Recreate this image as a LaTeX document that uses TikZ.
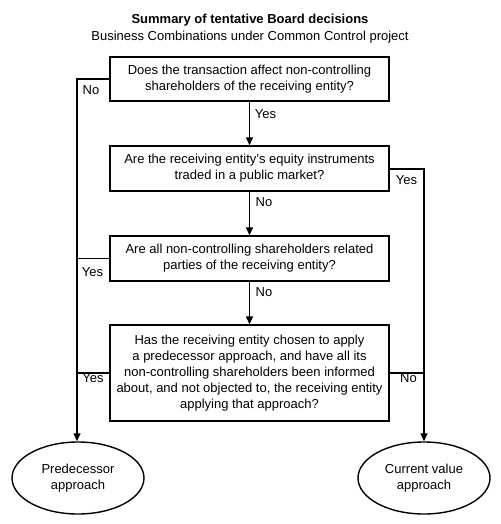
\documentclass[tikz,border=0pt]{standalone}
\usepackage{fontspec}
\setmainfont{Liberation Sans}
\usetikzlibrary{arrows.meta,shapes.geometric}
\begin{document}
\begin{tikzpicture}[x=1pt,y=-1pt,
  box/.style={draw,line width=1.4pt,minimum width=279pt,align=center,font=\fontsize{13}{16}\selectfont,inner sep=0pt},
  term/.style={draw,ellipse,line width=1.4pt,minimum width=132pt,minimum height=72pt,align=center,font=\fontsize{13}{16}\selectfont,inner sep=0pt},
  conn/.style={line width=1.4pt},
  arr/.style={line width=1.4pt,-{Triangle[length=8pt,width=7pt]}},
  lbl/.style={font=\fontsize{13}{15}\selectfont,inner sep=0pt}]
\useasboundingbox (0,0) rectangle (500,524);
\node[font=\bfseries\fontsize{13}{15}\selectfont] (t1) at (250,20) {Summary of tentative Board decisions};
\node[font=\fontsize{13}{15}\selectfont] (t2) at (250,37) {Business Combinations under Common Control project};
\node[box,minimum height=44pt] (b1) at (249.5,79) {Does the transaction affect non-controlling\\shareholders of the receiving entity?};
\node[box,minimum height=45pt] (b2) at (249.5,168.5) {Are the receiving entity's equity instruments\\traded in a public market?};
\node[box,minimum height=45pt] (b3) at (249.5,258.5) {Are all non-controlling shareholders related\\parties of the receiving entity?};
\node[box,minimum height=96pt] (b4) at (249.5,373) {Has the receiving entity chosen to apply\\a predecessor approach, and have all its\\non-controlling shareholders been informed\\about, and not objected to, the receiving entity\\applying that approach?};
\node[term] (e1) at (78,478) {Predecessor\\approach};
\node[term] (e2) at (424,478) {Current value\\approach};
\coordinate (l1) at (77,79);
\coordinate (r2) at (424,169);
\draw[arr] (b1) -- (b2);
\draw[arr] (b2) -- (b3);
\draw[arr] (b3) -- (b4);
\draw[arr] (b1.west) -- (l1) -- (e1.north -| l1);
\draw[conn] (b3.west) -- (b3.west -| l1);
\draw[conn] (b4.west) -- (b4.west -| l1);
\draw[arr] (b2.east |- r2) -- (r2) -- (e2.north);
\draw[conn] (b4.east) -- (b4.east -| r2);
\node[lbl] (n1) at (91,90) {No};
\node[lbl] (y1) at (265.5,114) {Yes};
\node[lbl] (y2) at (406.5,180) {Yes};
\node[lbl] (n2) at (264,202) {No};
\node[lbl] (y3) at (92.5,272) {Yes};
\node[lbl] (n3) at (264,292) {No};
\node[lbl] (y4) at (93,378) {Yes};
\node[lbl] (n4) at (408.5,378) {No};
\end{tikzpicture}
\end{document}
